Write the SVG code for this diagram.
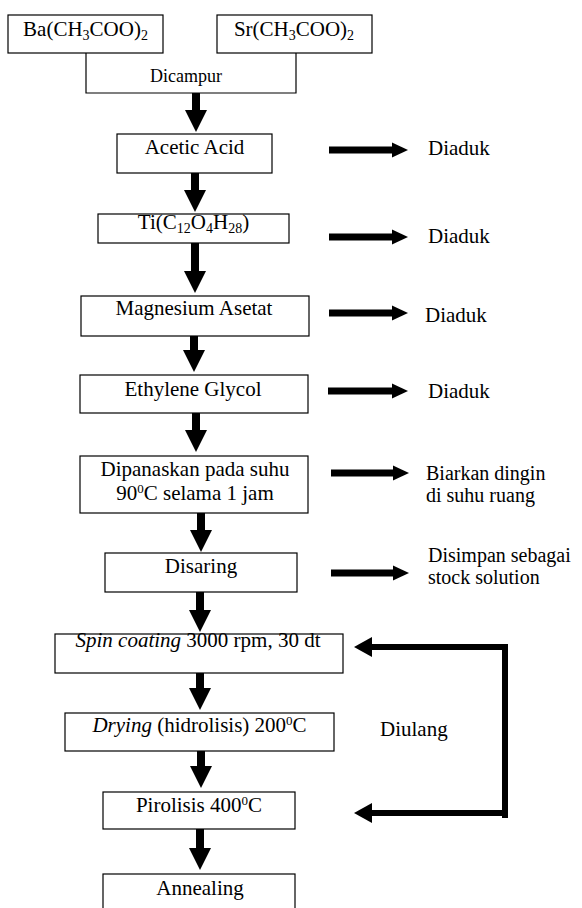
<svg xmlns="http://www.w3.org/2000/svg" width="582" height="908" viewBox="0 0 582 908">
<style>
text{font-family:"Liberation Serif","Times New Roman",serif;font-size:21px;fill:#000}
.c{text-anchor:middle}
.sm{font-size:20px}
.box{fill:#fff;stroke:#000;stroke-width:1.2}
.sub{font-size:14px}
.sup{font-size:13px}
.main{stroke:#000;stroke-width:8;fill:none}
.side{stroke:#000;stroke-width:7;fill:none}
.fb{stroke:#000;stroke-width:6;fill:none;stroke-linecap:square}
</style>
<defs>
<marker id="hm" markerUnits="userSpaceOnUse" markerWidth="22" markerHeight="22" refX="0" refY="11" orient="auto"><path d="M0,0 L22,11 L0,22 z" fill="#000"/></marker>
<marker id="hs" markerUnits="userSpaceOnUse" markerWidth="16" markerHeight="16" refX="0" refY="8" orient="auto"><path d="M0,0.5 L16,8 L0,15.5 z" fill="#000"/></marker>
<marker id="hf" markerUnits="userSpaceOnUse" markerWidth="18" markerHeight="20" refX="0" refY="10" orient="auto"><path d="M0,0 L18,10 L0,20 z" fill="#000"/></marker>
</defs>
<g id="connectors">
<line class="main" x1="196" y1="93" x2="196" y2="110" marker-end="url(#hm)"/>
<line class="main" x1="195" y1="173" x2="195" y2="190" marker-end="url(#hm)"/>
<line class="main" x1="195" y1="243" x2="195" y2="271" marker-end="url(#hm)"/>
<line class="main" x1="194" y1="336" x2="194" y2="350" marker-end="url(#hm)"/>
<line class="main" x1="196" y1="413" x2="196" y2="430" marker-end="url(#hm)"/>
<line class="main" x1="201" y1="513" x2="201" y2="530" marker-end="url(#hm)"/>
<line class="main" x1="200" y1="592" x2="200" y2="610" marker-end="url(#hm)"/>
<line class="main" x1="200" y1="673" x2="200" y2="688" marker-end="url(#hm)"/>
<line class="main" x1="201" y1="751" x2="201" y2="766" marker-end="url(#hm)"/>
<line class="main" x1="200" y1="829" x2="200" y2="848" marker-end="url(#hm)"/>
<line class="side" x1="329" y1="150" x2="392" y2="150" marker-end="url(#hs)"/>
<line class="side" x1="329" y1="237" x2="392" y2="237" marker-end="url(#hs)"/>
<line class="side" x1="329" y1="313" x2="392" y2="313" marker-end="url(#hs)"/>
<line class="side" x1="328" y1="391" x2="392" y2="391" marker-end="url(#hs)"/>
<line class="side" x1="331" y1="473" x2="393" y2="473" marker-end="url(#hs)"/>
<line class="side" x1="331" y1="573" x2="393" y2="573" marker-end="url(#hs)"/>
<path class="fb" d="M505,815 V647 H372" marker-end="url(#hf)"/>
<path class="fb" d="M505,813 H372" marker-end="url(#hf)"/>
</g>
<g id="ba">
<rect class="box" x="8" y="15" width="155" height="38"/>
<text class="c" x="85.5" y="36">Ba(CH<tspan class="sub" dy="4">3</tspan><tspan dy="-4">COO)</tspan><tspan class="sub" dy="4">2</tspan></text>
</g>
<g id="sr">
<rect class="box" x="217" y="15" width="155" height="38"/>
<text class="c" x="294" y="36">Sr(CH<tspan class="sub" dy="4">3</tspan><tspan dy="-4">COO)</tspan><tspan class="sub" dy="4">2</tspan></text>
</g>
<g id="dicampur">
<path d="M86,53 V93 H296 V53" fill="none" stroke="#000" stroke-width="1.2"/>
<text class="c" x="186" y="82" style="font-size:18px">Dicampur</text>
</g>
<g id="acetic">
<rect class="box" x="117" y="134" width="155" height="39"/>
<text class="c" x="194.5" y="154">Acetic Acid</text>
</g>
<g id="ti">
<rect class="box" x="98" y="214" width="191" height="29"/>
<text class="c" x="193.5" y="229">Ti(C<tspan class="sub" dy="4">12</tspan><tspan dy="-4">O</tspan><tspan class="sub" dy="4">4</tspan><tspan dy="-4">H</tspan><tspan class="sub" dy="4">28</tspan><tspan dy="-4">)</tspan></text>
</g>
<g id="magnesium">
<rect class="box" x="81" y="296" width="228" height="40"/>
<text class="c" x="194" y="315">Magnesium Asetat</text>
</g>
<g id="ethylene">
<rect class="box" x="80" y="375" width="228" height="38"/>
<text class="c" x="193" y="396">Ethylene Glycol</text>
</g>
<g id="dipanaskan">
<rect class="box" x="80" y="456" width="228" height="57"/>
<text class="c" x="195" y="476">Dipanaskan pada suhu</text>
<text class="c" x="195" y="500">90<tspan class="sup" dy="-7">0</tspan><tspan dy="7">C selama 1 jam</tspan></text>
</g>
<g id="disaring">
<rect class="box" x="105" y="553" width="192" height="39"/>
<text class="c" x="201" y="573">Disaring</text>
</g>
<g id="spin">
<rect class="box" x="55" y="634" width="288" height="39"/>
<text class="c" x="198" y="647"><tspan font-style="italic">Spin coating</tspan> 3000 rpm, 30 dt</text>
</g>
<g id="drying">
<rect class="box" x="65" y="713" width="269" height="38"/>
<text class="c" x="199.5" y="732"><tspan font-style="italic">Drying</tspan> (hidrolisis) 200<tspan class="sup" dy="-7">0</tspan><tspan dy="7">C</tspan></text>
</g>
<g id="pirolisis">
<rect class="box" x="103" y="792" width="192" height="37"/>
<text class="c" x="199" y="812">Pirolisis 400<tspan class="sup" dy="-7">0</tspan><tspan dy="7">C</tspan></text>
</g>
<g id="annealing">
<rect class="box" x="103" y="874" width="192" height="44"/>
<text class="c" x="200" y="895">Annealing</text>
</g>
<g id="labels">
<text x="428" y="155">Diaduk</text>
<text x="428" y="243">Diaduk</text>
<text x="425" y="322">Diaduk</text>
<text x="428" y="398">Diaduk</text>
<text class="sm" x="426" y="480">Biarkan dingin</text>
<text class="sm" x="426" y="502">di suhu ruang</text>
<text class="sm" x="428" y="562">Disimpan sebagai</text>
<text class="sm" x="428" y="584">stock solution</text>
<text x="380" y="736">Diulang</text>
</g>
</svg>
